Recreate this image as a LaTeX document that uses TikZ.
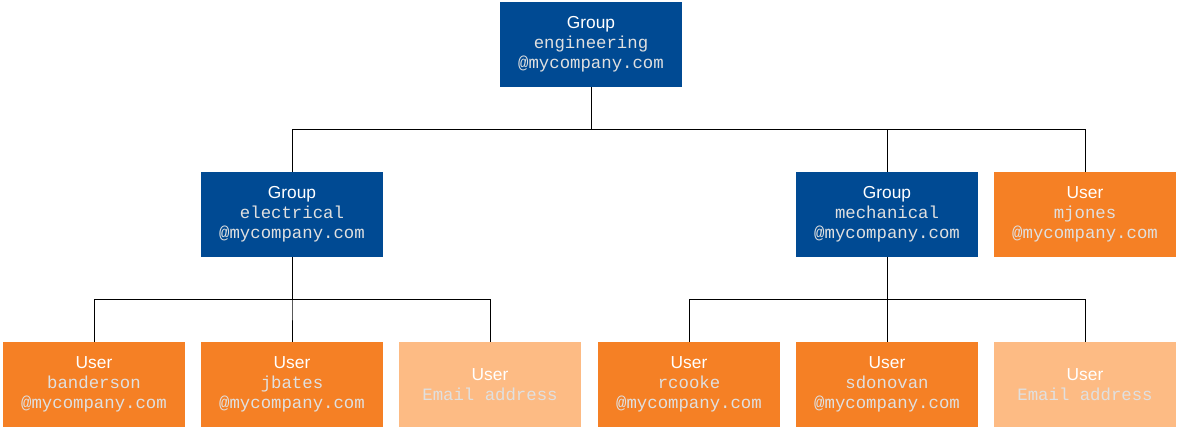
\documentclass[tikz,border=0pt]{standalone}
\usepackage{fontspec}
\setmainfont{Liberation Sans}
\setmonofont{Liberation Mono}
\usetikzlibrary{positioning}
\definecolor{grpblue}{HTML}{004A93}
\definecolor{usrorange}{HTML}{F58025}
\definecolor{usrlight}{HTML}{FDBB84}
\tikzstyle{box} = [minimum width=136.5pt, minimum height=63.75pt, inner sep=0pt, align=center, text=white, font=\fontsize{13}{15}\selectfont]
\tikzstyle{group} = [box, fill=grpblue]
\tikzstyle{user} = [box, fill=usrorange]
\tikzstyle{spare} = [box, fill=usrlight]
\tikzstyle{link} = [black, line width=0.6pt]
\newcommand{\addr}[1]{{\ttfamily\color{white!88!black}#1}}

\begin{document}
\begin{tikzpicture}[x=0.75pt, y=-0.75pt]
        \useasboundingbox (0,0) rectangle (1180,429);

        \node[group] (eng) at (591,44.5) {Group\\ \addr{engineering}\\ \addr{@mycompany.com}};

        \node[group] (elec) at (292,214.5) {Group\\ \addr{electrical}\\ \addr{@mycompany.com}};
        \node[group] (mech) at (887,214.5) {Group\\ \addr{mechanical}\\ \addr{@mycompany.com}};
        \node[user] (mjones) at (1085,214.5) {User\\ \addr{mjones}\\ \addr{@mycompany.com}};

        \node[user] (banderson) at (94,384.5) {User\\ \addr{banderson}\\ \addr{@mycompany.com}};
        \node[user] (jbates) at (292,384.5) {User\\ \addr{jbates}\\ \addr{@mycompany.com}};
        \node[spare] (elecnew) at (490,384.5) {User\\ \addr{Email address}};
        \node[user] (rcooke) at (689,384.5) {User\\ \addr{rcooke}\\ \addr{@mycompany.com}};
        \node[user] (sdonovan) at (887,384.5) {User\\ \addr{sdonovan}\\ \addr{@mycompany.com}};
        \node[spare] (mechnew) at (1085,384.5) {User\\ \addr{Email address}};

        % tree connectors
        \foreach \child in {elec, mech, mjones}
            \draw[link] (eng.south) -- ++(0,42) -| (\child.north);
        \foreach \child in {banderson, jbates, elecnew}
            \draw[link] (elec.south) -- ++(0,42) -| (\child.north);
        \foreach \child in {rcooke, sdonovan, mechnew}
            \draw[link] (mech.south) -- ++(0,42) -| (\child.north);

    \end{tikzpicture}
\end{document}
